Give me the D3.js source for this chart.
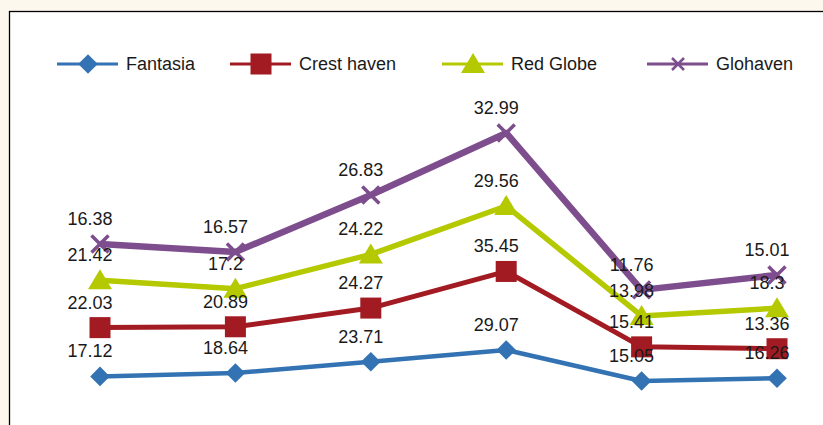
<!DOCTYPE html>
<html>
<head>
<meta charset="utf-8">
<script src="https://cdn.jsdelivr.net/npm/d3@7"></script>
<style>
  body { margin: 0; background: #fdf8ee; }
  svg { display: block; font-family: 'Liberation Sans', Arial, sans-serif; }
</style>
</head>
<body>
<div id="chart"></div>
<script>
// data (stacked lines)
var categories = ['1', '2', '3', '4', '5', '6']
var fantasia = [17.12, 18.64, 23.71, 29.07, 15.05, 16.26]
var crestHaven = [22.03, 20.89, 24.27, 35.45, 15.41, 13.36]
var redGlobe = [21.42, 17.2, 24.22, 29.56, 13.98, 18.3]
var glohaven = [16.38, 16.57, 26.83, 32.99, 11.76, 15.01]
var seriesNames = ['Fantasia', 'Crest haven', 'Red Globe', 'Glohaven']

var width = 823
var height = 425

var svg = d3.select('#chart')
  .append('svg')
  .attr('width', width)
  .attr('height', height)

// plot area, runs off the right and bottom edges
svg.append('rect')
  .attr('x', 9.5)
  .attr('y', 11.5)
  .attr('width', 840)
  .attr('height', 440)
  .attr('fill', '#ffffff')
  .attr('stroke', '#000')
  .attr('stroke-width', 1.3)

var series = [
  { name: seriesNames[0], values: fantasia, color: '#3473b3', width: 4.5, marker: 'diamond' },
  { name: seriesNames[1], values: crestHaven, color: '#a31b22', width: 5, marker: 'square' },
  { name: seriesNames[2], values: redGlobe, color: '#b5c900', width: 5.5, marker: 'triangle' },
  { name: seriesNames[3], values: glohaven, color: '#7d4d8d', width: 6.5, marker: 'cross' }
]

// stack them
var rows = categories.map(function(c, i) {
  var r = { cat: c }
  series.forEach(function(s) { r[s.name] = s.values[i] })
  return r
})
var stacked = d3.stack().keys(seriesNames)(rows)

var xPositionScale = d3.scalePoint()
  .domain(categories)
  .range([100, 777])

var yPositionScale = d3.scaleLinear()
  .domain([0, 140])
  .range([414.3, 414.3 - 140 * 2.214])

var line = d3.line()
  .x(function(d) { return xPositionScale(d.data.cat) })
  .y(function(d) { return yPositionScale(d[1]) })

function drawMarker(g, type, color, x, y, small) {
  if (type === 'diamond') {
    g.append('path')
      .attr('d', d3.symbol().type(d3.symbolDiamond2).size(245)())
      .attr('transform', 'translate(' + x + ',' + y + ')')
      .attr('fill', color)
  } else if (type === 'square') {
    g.append('rect')
      .attr('x', x - 10.5).attr('y', y - 10.5)
      .attr('width', 21).attr('height', 21)
      .attr('fill', color)
  } else if (type === 'triangle') {
    g.append('path')
      .attr('d', 'M' + x + ',' + (y - 11) + 'L' + (x + 12) + ',' + (y + 9) + 'L' + (x - 12) + ',' + (y + 9) + 'Z')
      .attr('fill', color)
  } else {
    var r = small ? 6 : 8.5
    g.append('path')
      .attr('d', 'M' + (x - r) + ',' + (y - r) + 'L' + (x + r) + ',' + (y + r) + 'M' + (x - r) + ',' + (y + r) + 'L' + (x + r) + ',' + (y - r))
      .attr('stroke', color)
      .attr('stroke-width', small ? 2.5 : 3.5)
      .attr('fill', 'none')
  }
}

stacked.forEach(function(layer, k) {
  var s = series[k]
  var g = svg.append('g')
  g.append('path')
    .datum(layer)
    .attr('d', line)
    .attr('fill', 'none')
    .attr('stroke', s.color)
    .attr('stroke-width', s.width)
    .attr('stroke-linejoin', 'round')

  layer.forEach(function(d) {
    drawMarker(g, s.marker, s.color, xPositionScale(d.data.cat), yPositionScale(d[1]))
  })
})

// labels on top of everything
stacked.forEach(function(layer, k) {
  var s = series[k]
  svg.append('g')
    .selectAll('text')
    .data(layer)
    .enter()
    .append('text')
    .text(function(d) { return s.values[categories.indexOf(d.data.cat)] })
    .attr('x', function(d) { return xPositionScale(d.data.cat) - 10 })
    .attr('y', function(d) { return yPositionScale(d[1]) - 19 })
    .attr('text-anchor', 'middle')
    .attr('font-size', 18)
    .attr('fill', '#1a1a1a')
})

// legend
var legendX = [57, 230, 442, 647]
var legend = svg.append('g')
series.forEach(function(s, i) {
  var x0 = legendX[i]
  var y0 = 64
  legend.append('line')
    .attr('x1', x0).attr('x2', x0 + 61)
    .attr('y1', y0).attr('y2', y0)
    .attr('stroke', s.color)
    .attr('stroke-width', 3)
  drawMarker(legend, s.marker, s.color, x0 + 31, y0, true)
  legend.append('text')
    .text(s.name)
    .attr('x', x0 + 69)
    .attr('y', y0 + 6)
    .attr('font-size', 18)
    .attr('fill', '#1a1a1a')
})
</script>
</body>
</html>
